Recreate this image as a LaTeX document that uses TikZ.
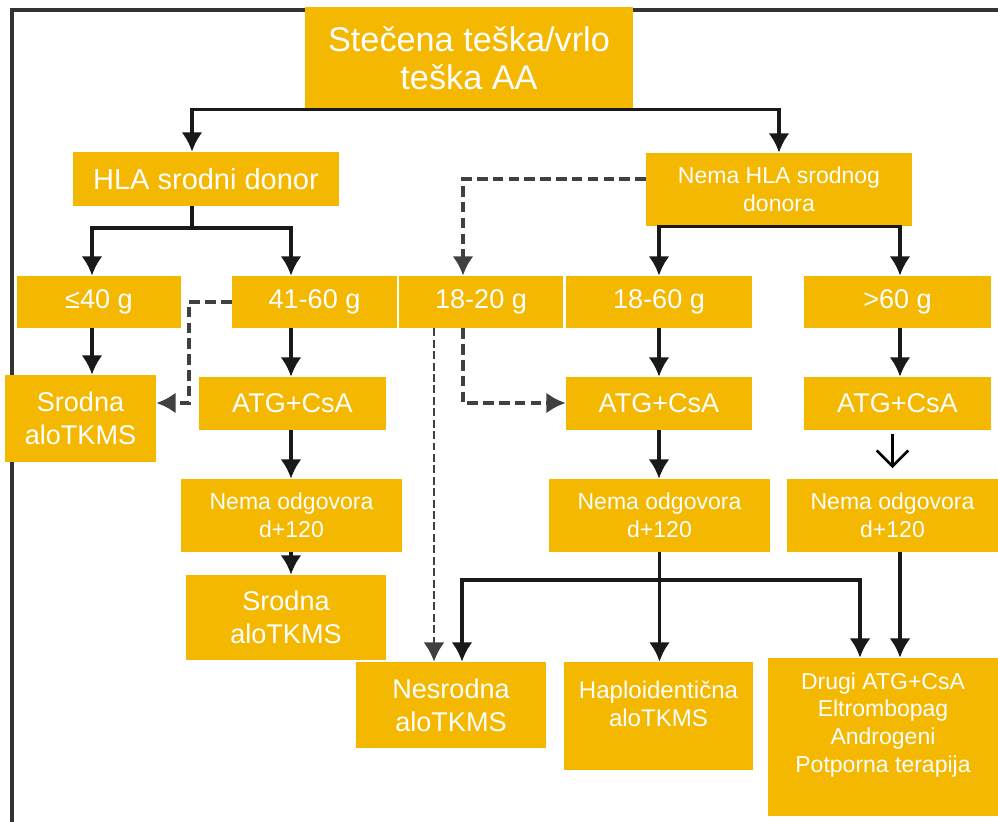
\documentclass[tikz,border=0pt]{standalone}
\usepackage{fontspec}
\setmainfont{Liberation Sans}
\usetikzlibrary{arrows.meta,calc}

\definecolor{zuta}{HTML}{F5B800}
\newcommand{\fVel}{\fontsize{19.5}{21.6}\selectfont}
\newcommand{\fHla}{\fontsize{16.5}{19}\selectfont}
\newcommand{\fSre}{\fontsize{15.4}{18.8}\selectfont}
\newcommand{\fHap}{\fontsize{13.7}{16}\selectfont}
\newcommand{\fMal}{\fontsize{13.1}{15.9}\selectfont}

\begin{document}
\begin{tikzpicture}[x=0.02cm,y=-0.02cm,>={Latex[length=11pt,width=12pt]},
	box/.style={fill=zuta,text=white,align=center,inner sep=0pt},
	tekst/.style={text=white,align=center,inner sep=0pt},
	veza/.style={line width=2.1pt,draw=black!90},
	strelica/.style={veza,->},
	crtkano/.style={line width=2.2pt,draw=black!75,dash pattern=on 6pt off 3pt,->},
	crtkano2/.style={line width=1.6pt,draw=black!75,dash pattern=on 4.5pt off 2pt,->},
	otvoreno/.style={line width=1.5pt,-{Straight Barb[length=9pt,width=18pt]}}]
		\useasboundingbox (0,0) rectangle (998,822);
		% Okvir
		\draw [line width=2pt,draw=black!80] (12,822) -- (12,10) -- (998,10);
		
		% Korijen
		\node [box,minimum width=6.56cm,minimum height=2.04cm,font=\fVel] (top) at (469,58) {Stečena teška/vrlo\\teška AA};
		\node [box,minimum width=5.32cm,minimum height=1.08cm,font=\fHla] (hla) at (206,179) {HLA srodni donor};
		\node [box,minimum width=5.32cm,minimum height=1.46cm,font=\fMal] (nohla) at (779,189.5) {Nema HLA srodnog\\donora};
		
		% Dob
		\node [box,minimum width=3.28cm,minimum height=1.04cm,font=\fSre] (g40) at (99,302) {≤40 g};
		\node [box,minimum width=3.30cm,minimum height=1.04cm,font=\fSre] (g4160) at (314.5,302) {41-60 g};
		\node [box,minimum width=3.28cm,minimum height=1.04cm,font=\fSre] (g1820) at (481,302) {18-20 g};
		\node [box,minimum width=3.72cm,minimum height=1.04cm,font=\fSre] (g1860) at (659,302) {18-60 g};
		\node [box,minimum width=3.74cm,minimum height=1.04cm,font=\fSre] (g60) at (897.5,302) {>60 g};
		
		% Terapija
		\node [box,minimum width=3.02cm,minimum height=1.74cm,font=\fSre] (srodna1) at (80.5,418.5) {Srodna\\aloTKMS};
		\node [box,minimum width=3.74cm,minimum height=1.06cm,font=\fSre] (atg1) at (292.5,403.5) {ATG+CsA};
		\node [box,minimum width=3.72cm,minimum height=1.06cm,font=\fSre] (atg2) at (659,403.5) {ATG+CsA};
		\node [box,minimum width=3.74cm,minimum height=1.06cm,font=\fSre] (atg3) at (897.5,403.5) {ATG+CsA};
		\node [box,minimum width=4.42cm,minimum height=1.46cm,font=\fMal] (odg1) at (291.5,515.5) {Nema odgovora\\d+120};
		\node [box,minimum width=4.42cm,minimum height=1.46cm,font=\fMal] (odg2) at (659.5,515.5) {Nema odgovora\\d+120};
		\node [box,minimum width=4.22cm,minimum height=1.46cm,font=\fMal] (odg3) at (892.5,515.5) {Nema odgovora\\d+120};
		
		% Ishodi
		\node [box,minimum width=4.00cm,minimum height=1.70cm,font=\fSre] (srodna2) at (286,617.5) {Srodna\\aloTKMS};
		\node [box,minimum width=3.80cm,minimum height=1.72cm,font=\fSre] (nesrodna) at (451,705) {Nesrodna\\aloTKMS};
		\node [box,minimum width=3.78cm,minimum height=2.16cm] (haplo) at (658.5,716) {};
		\node [tekst,font=\fHap] (haplo-t) at ([yshift=0.24cm]haplo.center) {Haploidentična\\aloTKMS};
		\node [box,minimum width=4.60cm,minimum height=3.16cm] (drugi) at (883,737) {};
		\node [tekst,font=\fMal] (drugi-t) at ([yshift=0.24cm]drugi.center) {Drugi ATG+CsA\\Eltrombopag\\Androgeni\\Potporna terapija};
		
		% Stupci i prijelomi
		\coordinate (cA) at (92,0);
		\coordinate (cB) at (291,0);
		\coordinate (cC) at (462,0);
		\coordinate (cD) at (860,0);
		\coordinate (cE) at (900,0);
		\coordinate (kHla) at (192,228);
		\coordinate (kOdg) at (660,580);
		\coordinate (dA) at (463,179);
		\coordinate (dB) at (189,403);
		\coordinate (dC) at (463,403);
		\coordinate (dD) at (434,0);
		
		% Pune strelice
		\draw [strelica] (top.south) -| (hla.north -| kHla);
		\draw [strelica] (top.south) -| (nohla.north);
		\draw [veza] (hla.south -| kHla) -- (kHla);
		\draw [strelica] (kHla) -| (g40.north -| cA);
		\draw [strelica] (kHla) -| (g4160.north -| cB);
		\draw [strelica] (nohla.south) -| (g1860.north);
		\draw [strelica] (nohla.south) -| (g60.north -| cE);
		\draw [strelica] (g40.south -| cA) -- (srodna1.north -| cA);
		\draw [strelica] (g4160.south -| cB) -- (atg1.north -| cB);
		\draw [strelica] (atg1.south -| cB) -- (odg1.north -| cB);
		\draw [strelica] (odg1.south -| cB) -- (srodna2.north -| cB);
		\draw [strelica] (g1860.south) -- (atg2.north);
		\draw [strelica] (atg2.south) -- (atg2.south |- odg2.north);
		\draw [strelica] (g60.south -| cE) -- (atg3.north -| cE);
		\draw [otvoreno,shorten <=2pt,shorten >=6pt] (atg3.south -| odg3.north) -- (odg3.north);
		\draw [strelica] (odg3.south -| cE) -- (drugi.north -| cE);
		\draw [strelica] (odg2.south) -- (odg2.south |- haplo.north);
		\draw [strelica] (kOdg) -| (nesrodna.north -| cC);
		\draw [strelica] (kOdg) -| (drugi.north -| cD);
		
		% Crtkane strelice
		\draw [crtkano] (nohla.west |- dA) -- (dA) -- (g1820.north -| dA);
		\draw [crtkano] (g4160.west) -| (dB) -- (srodna1.east |- dB);
		\draw [crtkano] (g1820.south -| dC) -- (dC) -- (atg2.west |- dC);
		\draw [crtkano2] (g1820.south -| dD) -- (nesrodna.north -| dD);
	\end{tikzpicture}
\end{document}
